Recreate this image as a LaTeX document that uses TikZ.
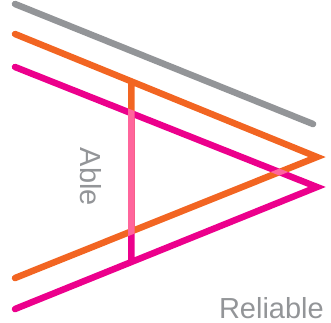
\documentclass[tikz,border=0pt]{standalone}
\usepackage{fontspec}
\setmainfont{Liberation Sans}
\usetikzlibrary{calc}
\definecolor{logogray}{HTML}{939598}
\definecolor{logoorange}{HTML}{F26522}
\definecolor{logopink}{HTML}{EC008C}

\begin{document}
\begin{tikzpicture}[
  x=1pt, y=-1pt,
  stroke/.style={draw=#1, line width=6.5pt, line cap=round},
  word/.style={text=logogray, font=\fontsize{29}{29}\selectfont, inner sep=0pt},
]
\useasboundingbox (0,0) rectangle (331,322);

%─── Key points ──────────────────────────────────────────────────────────────
\coordinate (gl) at (15,4);    % gray line
\coordinate (gr) at (313,124);
\coordinate (otl) at (15,34);  % orange chevron
\coordinate (oap) at (317,157);
\coordinate (obl) at (15,278);
\coordinate (mtl) at (15,67);  % pink chevron
\coordinate (map) at (317,187);
\coordinate (mbl) at (15,309);

% the upright bar sits at the same fraction on every arm
\def\barpos{0.3857}
\coordinate (otb) at ($(otl)!\barpos!(oap)$);
\coordinate (obb) at ($(obl)!\barpos!(oap)$);
\coordinate (mtb) at ($(mtl)!\barpos!(map)$);
\coordinate (mbb) at ($(mbl)!\barpos!(map)$);

%─── Gray line ───────────────────────────────────────────────────────────────
\draw[stroke=logogray] (gl) -- (gr);

%─── Chevrons with bars, lightened where they cross ──────────────────────────
\begin{scope}[blend group=screen]
  \draw[stroke=logoorange] (otl) -- (oap) -- (obl)
                           (otb) -- (obb);
  \draw[stroke=logopink] (mtl) -- (map) -- (mbl)
                         (mtb) -- (mbb);
\end{scope}

%─── Words ───────────────────────────────────────────────────────────────────
\node[word, rotate=-90, anchor=base] (able) at (80,177) {Able};
\node[word, anchor=base east] (reliable) at (324,318) {Reliable};

\end{tikzpicture}
\end{document}
